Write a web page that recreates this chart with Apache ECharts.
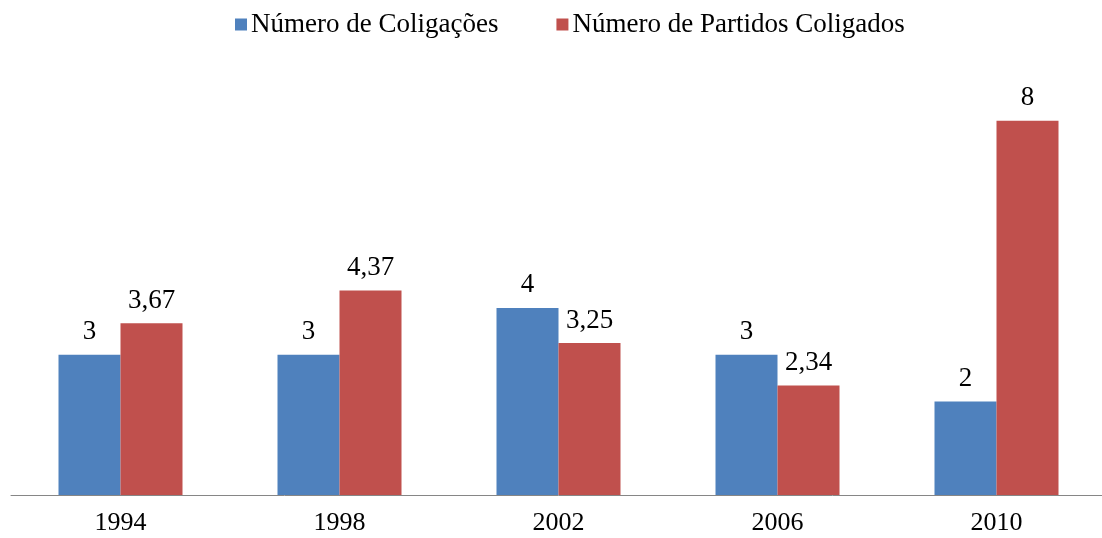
<!DOCTYPE html>
<html>
<head>
<meta charset="utf-8">
<script src="https://cdn.jsdelivr.net/npm/echarts@6/dist/echarts.min.js"></script>
<style>
  html, body { margin: 0; padding: 0; background: #fff; overflow: hidden; }
  #chart { width: 1110px; height: 538px; }
</style>
</head>
<body>
<div id="chart"></div>
<script>
// eleições
const years = ['1994', '1998', '2002', '2006', '2010']
const coligacoes = [3, 3, 4, 3, 2]
const partidosColigados = [3.67, 4.37, 3.25, 2.34, 8]

const fontFamily = '"Liberation Serif", "Times New Roman", serif'
const fmt = p => String(p.value).replace('.', ',')

const myChart = echarts.init(document.getElementById('chart'))
const option = {
  animation: false,
  textStyle: { fontFamily: fontFamily },
  legend: {
    top: 6,
    left: 230,
    itemGap: 58,
    itemWidth: 12,
    itemHeight: 12,
    icon: 'rect',
    textStyle: { fontFamily: fontFamily, fontSize: 27, color: '#000', padding: [0, 0, 0, -1] }
  },
  grid: {
    left: 11,
    width: 1095,
    top: 74,
    bottom: 43
  },
  xAxis: {
    type: 'category',
    data: years,
    axisLine: { lineStyle: { color: '#868686', width: 1 } },
    axisTick: { show: false },
    axisLabel: { fontFamily: fontFamily, fontSize: 26, color: '#000', margin: 15 }
  },
  yAxis: {
    type: 'value',
    min: 0,
    max: 9,
    show: false,
    splitLine: { show: false }
  },
  series: [
    {
      name: 'Número de Coligações',
      type: 'bar',
      barWidth: 62,
      barGap: '0%',
      itemStyle: { color: '#4F81BD' },
      label: { show: true, position: 'top', distance: 9, formatter: fmt, fontFamily: fontFamily, fontSize: 27, color: '#000' },
      data: coligacoes
    },
    {
      name: 'Número de Partidos Coligados',
      type: 'bar',
      barWidth: 62,
      barGap: '0%',
      itemStyle: { color: '#C0504D' },
      label: { show: true, position: 'top', distance: 9, formatter: fmt, fontFamily: fontFamily, fontSize: 27, color: '#000' },
      data: partidosColigados
    }
  ]
}
myChart.setOption(option)
</script>
</body>
</html>
